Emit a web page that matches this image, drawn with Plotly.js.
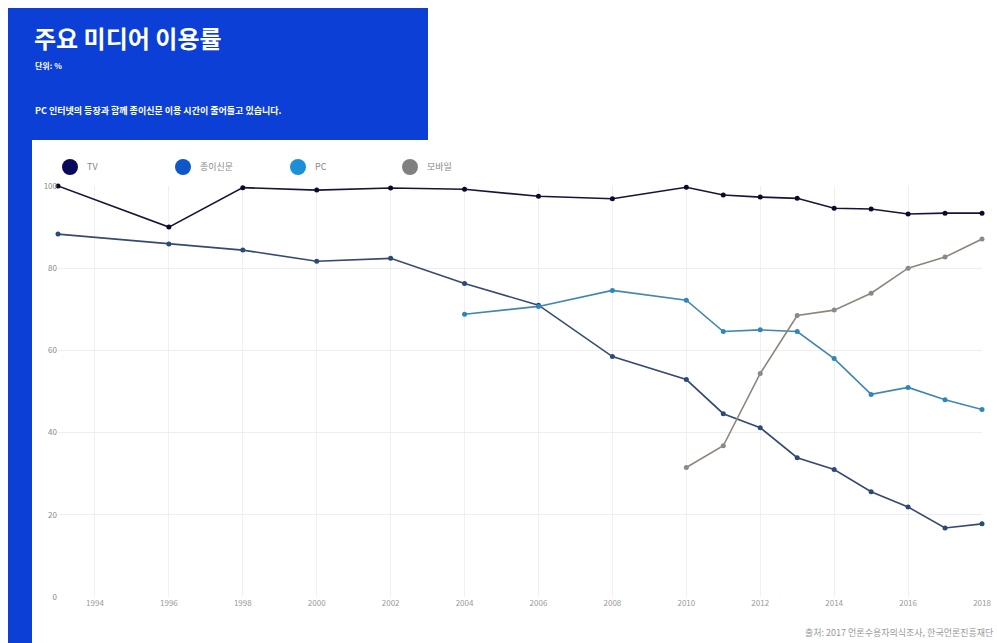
<!DOCTYPE html>
<html>
<head>
<meta charset="utf-8">
<script src="https://cdn.plot.ly/plotly-3.0.1.min.js"></script>
<style>
html,body{margin:0;padding:0;background:#fff;}
#chart{width:997px;height:643px;}
</style>
</head>
<body>
<div id="chart"></div>
<script>
// ---- data ----
const seriesNames = ['TV', '종이신문', 'PC', '모바일'];
const yearsTV = [1993, 1996, 1998, 2000, 2002, 2004, 2006, 2008, 2010, 2011, 2012, 2013, 2014, 2015, 2016, 2017, 2018];
const tvValues = [100, 90.0, 99.6, 99.0, 99.5, 99.2, 97.5, 96.9, 99.7, 97.8, 97.3, 97.0, 94.6, 94.4, 93.2, 93.4, 93.4];
const yearsPaper = [1993, 1996, 1998, 2000, 2002, 2004, 2006, 2008, 2010, 2011, 2012, 2013, 2014, 2015, 2016, 2017, 2018];
const paperValues = [88.3, 85.9, 84.4, 81.7, 82.4, 76.3, 71.0, 58.5, 52.9, 44.6, 41.2, 33.9, 31.0, 25.6, 21.9, 16.8, 17.8];
const yearsPC = [2004, 2006, 2008, 2010, 2011, 2012, 2013, 2014, 2015, 2016, 2017, 2018];
const pcValues = [68.8, 70.7, 74.6, 72.2, 64.6, 65.0, 64.6, 58.0, 49.3, 51.0, 48.0, 45.6];
const yearsMobile = [2010, 2011, 2012, 2013, 2014, 2015, 2016, 2017, 2018];
const mobileValues = [31.5, 36.8, 54.4, 68.5, 69.8, 73.9, 80.0, 82.7, 87.1];
const xTickVals = [1994, 1996, 1998, 2000, 2002, 2004, 2006, 2008, 2010, 2012, 2014, 2016, 2018];
const yTickVals = [0, 20, 40, 60, 80, 100];

const titleText = '주요 미디어 이용률';
const unitText = '단위: %';
const descText = 'PC 인터넷의 등장과 함께 종이신문 이용 시간이 줄어들고 있습니다.';
const sourceText = '출처: 2017 언론수용자의식조사, 한국언론진흥재단';

// ---- styles ----
const FONT = '"Noto Sans CJK KR", "Noto Sans", sans-serif';
const legendColors = ['#0a0a5a', '#0d57c9', '#1d8fd6', '#808080'];
const lineColors = ['#15153a', '#344a70', '#3f86b0', '#8f857a'];
const markerColors = ['#0a0a2a', '#2a4a7a', '#2f86b8', '#8a8a8a'];
const BLUE = '#0b3fd6';

// pixel -> paper helpers (plot area: x 58..982, y 186..597)
const L = 58, R = 982, T = 186, B = 597;
const px = v => (v - L) / (R - L);
const py = v => (B - v) / (B - T);

const xs = [yearsTV, yearsPaper, yearsPC, yearsMobile];
const ys = [tvValues, paperValues, pcValues, mobileValues];

const traces = seriesNames.map((n, i) => ({
  type: 'scatter', mode: 'lines+markers', name: n,
  x: xs[i], y: ys[i],
  line: {color: lineColors[i], width: 1.6},
  marker: {color: markerColors[i], size: 5},
  cliponaxis: false, showlegend: false
}));

const shapes = [
  {type: 'rect', xref: 'paper', yref: 'paper', x0: px(8), x1: px(428), y0: py(140), y1: py(8), fillcolor: BLUE, line: {width: 0}, layer: 'below'},
  {type: 'rect', xref: 'paper', yref: 'paper', x0: px(8), x1: px(32), y0: py(643), y1: py(140), fillcolor: BLUE, line: {width: 0}, layer: 'below'}
];

const annotations = [
  {xref: 'paper', yref: 'paper', x: px(32), y: py(37), xanchor: 'left', yanchor: 'middle', showarrow: false,
   text: '<b>' + titleText + '</b>', font: {family: FONT, size: 24, color: '#ffffff'}},
  {xref: 'paper', yref: 'paper', x: px(33), y: py(66), xanchor: 'left', yanchor: 'middle', showarrow: false,
   text: '<b>' + unitText + '</b>', font: {family: FONT, size: 8, color: '#ffffff'}},
  {xref: 'paper', yref: 'paper', x: px(33), y: py(111), xanchor: 'left', yanchor: 'middle', showarrow: false,
   text: '<b>' + descText + '</b>', font: {family: FONT, size: 9, color: '#ffffff'}},
  {xref: 'paper', yref: 'paper', x: px(995), y: py(632), xanchor: 'right', yanchor: 'middle', showarrow: false,
   text: sourceText, font: {family: FONT, size: 9, color: '#999999'}}
];

// legend drawn with shapes + annotations
const legendX = [70, 183, 298, 410];
const legendY = 167;
seriesNames.forEach((n, i) => {
  shapes.push({type: 'circle', xref: 'paper', yref: 'paper',
    x0: px(legendX[i] - 8), x1: px(legendX[i] + 8), y0: py(legendY + 8), y1: py(legendY - 8),
    fillcolor: legendColors[i], line: {width: 0}});
  annotations.push({xref: 'paper', yref: 'paper', x: px(legendX[i] + 15), y: py(legendY), xanchor: 'left', yanchor: 'middle',
    showarrow: false, text: n, font: {family: FONT, size: 9, color: '#888888'}});
});

const layout = {
  width: 997, height: 643,
  margin: {l: L, r: 997 - R, t: T, b: 643 - B},
  paper_bgcolor: '#ffffff', plot_bgcolor: '#ffffff',
  font: {family: FONT, size: 9, color: '#999999'},
  showlegend: false,
  xaxis: {range: [1993, 2018], tickvals: xTickVals, ticktext: xTickVals.map(String), showgrid: true, gridcolor: '#f0f0f0',
          zeroline: false, showline: false, ticks: '', tickfont: {size: 8, color: '#999999'}, fixedrange: true},
  yaxis: {range: [0, 100], tickvals: yTickVals, ticktext: yTickVals.map(String), showgrid: true, gridcolor: '#eeeeee',
          zeroline: false, showline: false, ticks: '', tickfont: {size: 8, color: '#888888'}, fixedrange: true},
  shapes: shapes,
  annotations: annotations
};

Plotly.newPlot('chart', traces, layout, {displayModeBar: false, staticPlot: true});
</script>
</body>
</html>
